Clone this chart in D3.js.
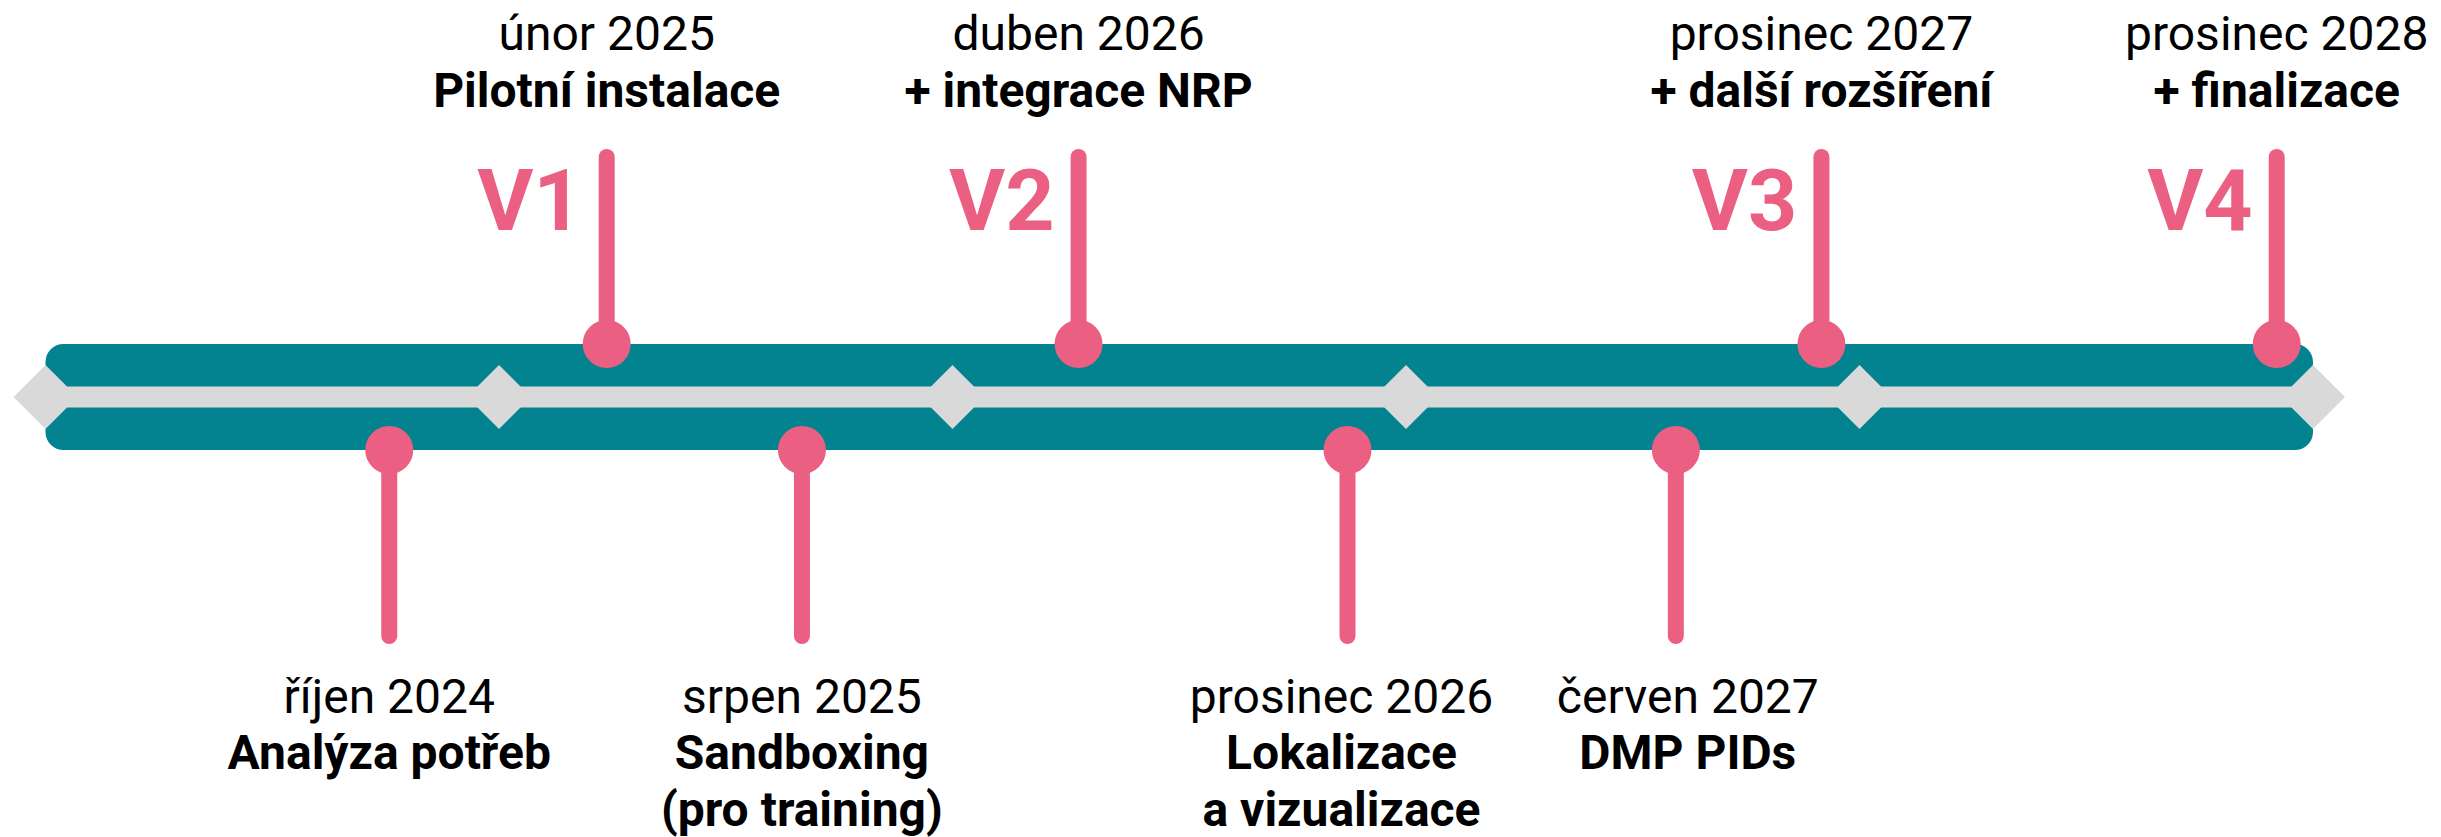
<!DOCTYPE html>
<html>
<head>
<meta charset="utf-8">
<script src="https://cdn.jsdelivr.net/npm/d3@7"></script>
<style>
  html, body { margin: 0; padding: 0; background: #fff; }
  svg { display: block; }
  text { font-family: Roboto, "Noto Sans", sans-serif; }
</style>
</head>
<body>
<svg id="chart" width="2441" height="837"></svg>
<script>
// ---- data ----
const ticks = [0, 1, 2, 3, 4, 5];                       // diamond markers along the axis
const eventPos = [0.758, 1.2375, 1.668, 2.278, 2.871, 3.595, 3.916, 4.920];
const eventSide = ["bottom", "top", "bottom", "top", "bottom", "bottom", "top", "top"];
const eventDates = ["říjen 2024", "únor 2025", "srpen 2025", "duben 2026",
                    "prosinec 2026", "červen 2027", "prosinec 2027", "prosinec 2028"];
const eventTitles = [["Analýza potřeb"], ["Pilotní instalace"], ["Sandboxing", "(pro training)"],
                     ["+ integrace NRP"], ["Lokalizace", "a vizualizace"], ["DMP PIDs"],
                     ["+ další rozšíření"], ["+ finalizace"]];
const eventVersion = ["", "V1", "", "V2", "", "", "V3", "V4"];
const labelShift = [0, 0, 0, 0, -6, 12, 0, 0];

// ---- styles ----
const TEAL = "#02838f", PINK = "#eb5f82", GRAY = "#d9d9d9";

const svg = d3.select("#chart");
const x = d3.scaleLinear().domain([0, 5]).range([45.5, 2313]);
const yMid = 397, barTop = 344, barBot = 450;

// teal bar
svg.append("rect")
  .attr("x", x(0)).attr("y", barTop)
  .attr("width", x(5) - x(0)).attr("height", barBot - barTop)
  .attr("rx", 18).attr("ry", 18)
  .attr("fill", TEAL);

// gray band
svg.append("rect")
  .attr("x", x(0)).attr("y", yMid - 10.5)
  .attr("width", x(5) - x(0)).attr("height", 21)
  .attr("fill", GRAY);

// diamonds
const dHalf = 32;
svg.selectAll("path.diamond").data(ticks).enter().append("path")
  .attr("class", "diamond")
  .attr("d", d => {
    const cx = x(d);
    return `M${cx - dHalf},${yMid}L${cx},${yMid - dHalf}L${cx + dHalf},${yMid}L${cx},${yMid + dHalf}Z`;
  })
  .attr("fill", GRAY);

const events = eventPos.map((p, i) => ({
  pos: p, side: eventSide[i], date: eventDates[i], title: eventTitles[i],
  ver: eventVersion[i], shift: labelShift[i]
}));

// sticks
svg.selectAll("line.stick").data(events).enter().append("line")
  .attr("class", "stick")
  .attr("x1", d => x(d.pos)).attr("x2", d => x(d.pos))
  .attr("y1", d => d.side === "top" ? barTop : barBot)
  .attr("y2", d => d.side === "top" ? 157 : 636)
  .attr("stroke", PINK).attr("stroke-width", 16).attr("stroke-linecap", "round");

// circles
svg.selectAll("circle.dot").data(events).enter().append("circle")
  .attr("class", "dot")
  .attr("cx", d => x(d.pos))
  .attr("cy", d => d.side === "top" ? barTop : barBot)
  .attr("r", 24)
  .attr("fill", PINK);

// version labels
svg.selectAll("text.ver").data(events.filter(d => d.ver)).enter().append("text")
  .attr("class", "ver")
  .attr("x", d => x(d.pos) - 24)
  .attr("y", 230)
  .attr("text-anchor", "end")
  .attr("font-size", 86).attr("font-weight", 700)
  .attr("fill", PINK)
  .text(d => d.ver);

// labels
const g = svg.selectAll("g.lab").data(events).enter().append("g").attr("class", "lab");
g.append("text")
  .attr("x", d => x(d.pos) + d.shift)
  .attr("y", d => d.side === "top" ? 50 : 713)
  .attr("text-anchor", "middle")
  .attr("font-size", 48).attr("font-weight", 400).attr("fill", "#000")
  .text(d => d.date);
g.each(function(d) {
  d.title.forEach((t, j) => {
    d3.select(this).append("text")
      .attr("x", x(d.pos) + d.shift)
      .attr("y", (d.side === "top" ? 107 : 769) + j * 57)
      .attr("text-anchor", "middle")
      .attr("font-size", 48).attr("font-weight", 700).attr("fill", "#000")
      .text(t);
  });
});
</script>
</body>
</html>
